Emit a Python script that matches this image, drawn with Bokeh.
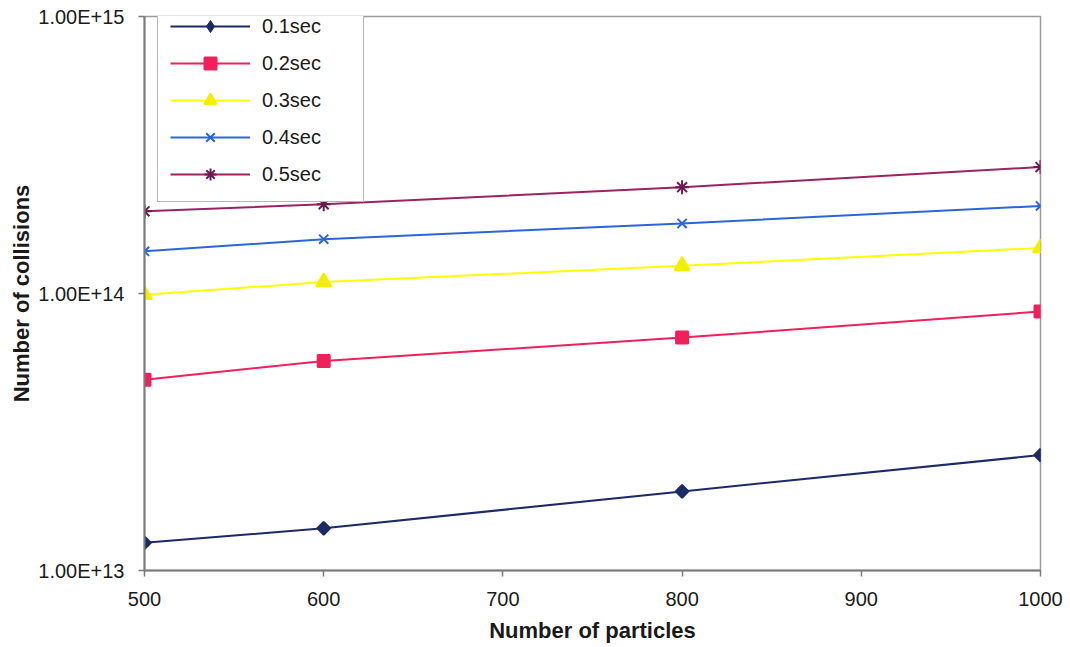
import math
from bokeh.plotting import figure
from bokeh.models import FixedTicker, CustomJSTickFormatter, Legend, LegendItem
from bokeh.embed import file_html
from bokeh.resources import INLINE

# Number of particles simulated
particles = [500, 600, 800, 1000]

# Number of collisions for each simulated duration
collisions_01 = [1.26e13, 1.42e13, 1.93e13, 2.61e13]
collisions_02 = [4.88e13, 5.71e13, 6.93e13, 8.61e13]
collisions_03 = [9.9e13, 1.10e14, 1.26e14, 1.46e14]
collisions_04 = [1.42e14, 1.57e14, 1.79e14, 2.07e14]
collisions_05 = [1.98e14, 2.10e14, 2.42e14, 2.86e14]

series_labels = ["0.1sec", "0.2sec", "0.3sec", "0.4sec", "0.5sec"]
x_ticks = [500, 600, 700, 800, 900, 1000]
y_ticks = [1e13, 1e14, 1e15]

FONT = "Liberation Sans"

p = figure(
    width=1070, height=647,
    x_range=(500, 1000), y_range=(1e13, 1e15),
    y_axis_type="log",
    output_backend="svg", toolbar_location=None,
    min_border_left=144, min_border_right=30,
    min_border_top=16, min_border_bottom=77,
)
p.background_fill_color = "white"
p.border_fill_color = "white"
p.outline_line_color = "#9a9a9a"
p.outline_line_width = 1.5
p.xgrid.visible = False
p.ygrid.visible = False

# x axis
p.xaxis.ticker = FixedTicker(ticks=x_ticks)
p.xaxis.axis_label = "Number of particles"
# y axis
p.yaxis.ticker = FixedTicker(ticks=y_ticks, minor_ticks=[])
p.yaxis.formatter = CustomJSTickFormatter(code="return tick.toExponential(2).toUpperCase();")
p.yaxis.axis_label = "Number of collisions"

for ax in (p.xaxis[0], p.yaxis[0]):
    ax.axis_line_color = "#7a7a7a"
    ax.axis_line_width = 2
    ax.major_tick_line_color = "#7a7a7a"
    ax.major_tick_line_width = 1.5
    ax.major_tick_out = 6
    ax.major_tick_in = 0
    ax.minor_tick_line_color = None
    ax.major_label_text_font = FONT
    ax.major_label_text_font_size = "20px"
    ax.major_label_text_color = "#1a1a1a"
    ax.axis_label_text_font = FONT
    ax.axis_label_text_font_size = "22px"
    ax.axis_label_text_font_style = "bold"
    ax.axis_label_text_color = "#1a1a1a"

p.xaxis.major_label_standoff = 15
p.xaxis.axis_label_standoff = 9
p.yaxis.major_label_standoff = 14
p.yaxis.axis_label_standoff = 1

series = [
    (collisions_01, "#1c2a66", "#1c2a66", "square", 9, math.pi / 4),
    (collisions_02, "#f0205a", "#f0205a", "square", 12, 0.0),
    (collisions_03, "#ffff00", "#f4ee00", "triangle", 15, 0.0),
    (collisions_04, "#2a66d8", "#2a66d8", "x", 13, 0.0),
    (collisions_05, "#9a2462", "#6e1a52", "asterisk", 14, 0.0),
]

items = []
for (vals, lc, mc, marker, size, angle), label in zip(series, series_labels):
    r_line = p.line(particles, vals, line_color=lc, line_width=2)
    renderers = [r_line]
    if angle:
        # diamond keyed into the legend; sits fully under the rotated squares
        r_key = p.scatter(particles, vals, marker="diamond", size=12,
                          fill_color=mc, line_color=mc, line_width=1)
        renderers.append(r_key)
    r_mark = p.scatter(particles, vals, marker=marker, size=size, angle=angle,
                       fill_color=mc, line_color=mc, line_width=2)
    if not angle:
        renderers.append(r_mark)
    items.append(LegendItem(label=label, renderers=renderers))

legend = Legend(
    items=items,
    location=(13, 368),
    background_fill_color="white",
    background_fill_alpha=1.0,
    border_line_color="#6e6e6e",
    border_line_width=1.5,
    padding=12,
    spacing=7,
    glyph_width=80,
    glyph_height=30,
    label_height=30,
    label_width=89,
    label_standoff=12,
    label_text_font=FONT,
    label_text_font_size="20px",
    label_text_color="#1a1a1a",
    margin=0,
)
p.add_layout(legend, "center")

open("out.html", "w").write(file_html(p, INLINE))
